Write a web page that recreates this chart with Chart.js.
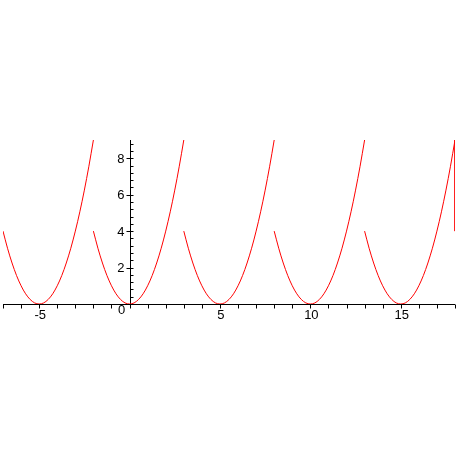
<!DOCTYPE html>
<html>
<head>
<meta charset="utf-8">
<script src="https://cdn.jsdelivr.net/npm/chart.js@4/dist/chart.umd.min.js"></script>
<style>
  html, body { margin: 0; padding: 0; background: #fff; }
  canvas { display: block; }
</style>
</head>
<body>
<canvas id="chart" width="459" height="459"></canvas>
<script>
// one period of the curve: offset from the dip -> height
const shapeX = [-2, -1.75, -1.5, -1.25, -1, -0.75, -0.5, -0.25, 0, 0.25, 0.5, 0.75, 1, 1.25, 1.5, 1.75, 2, 2.25, 2.5, 2.75, 3]
const shapeY = [4, 3.06, 2.25, 1.56, 1, 0.56, 0.25, 0.06, 0, 0.06, 0.25, 0.56, 1, 1.56, 2.25, 3.06, 4, 5.06, 6.25, 7.56, 9]
// x of each dip
const dips = [-5, 0, 5, 10, 15]
// the drop drawn at the right edge
const edgeX = [18, 18]
const edgeY = [9, 4]

const xLabels = [-5, 5, 10, 15]
const yLabels = [2, 4, 6, 8]

const red = '#ff0000'

const datasets = dips.map(d => ({
  data: shapeX.map((x, i) => ({ x: d + x, y: shapeY[i] })),
  borderColor: red,
  borderWidth: 1,
  pointRadius: 0,
  cubicInterpolationMode: 'monotone',
  fill: false,
}))
datasets.push({
  data: edgeX.map((x, i) => ({ x: x, y: edgeY[i] })),
  borderColor: red,
  borderWidth: 1,
  pointRadius: 0,
  fill: false,
})

// Maple-style axes through the origin
const axesPlugin = {
  id: 'mapleAxes',
  beforeDatasetsDraw(chart) {
    const { ctx } = chart
    const xs = chart.scales.x
    const ys = chart.scales.y
    const x0 = Math.round(xs.getPixelForValue(0)) + 0.5
    const y0 = Math.round(ys.getPixelForValue(0)) + 0.5
    const left = xs.getPixelForValue(xs.min)
    const right = xs.getPixelForValue(xs.max)
    const top = ys.getPixelForValue(ys.max)

    ctx.save()
    ctx.strokeStyle = '#000'
    ctx.lineWidth = 1
    ctx.beginPath()
    ctx.moveTo(left, y0)
    ctx.lineTo(right, y0)
    ctx.moveTo(x0, y0)
    ctx.lineTo(x0, top)
    // x ticks every unit, hanging below the axis
    for (let v = Math.ceil(xs.min); v <= xs.max; v++) {
      const px = Math.round(xs.getPixelForValue(v)) + 0.5
      ctx.moveTo(px, y0)
      ctx.lineTo(px, y0 + 4)
    }
    // y ticks
    for (let v = 0.4; v <= ys.max + 0.001; v += 0.4) {
      const py = Math.round(ys.getPixelForValue(v)) + 0.5
      ctx.moveTo(x0, py)
      ctx.lineTo(x0 + 3, py)
    }
    yLabels.forEach(v => {
      const py = Math.round(ys.getPixelForValue(v)) + 0.5
      ctx.moveTo(x0, py)
      ctx.lineTo(x0 - 4, py)
    })
    ctx.stroke()

    ctx.fillStyle = '#000'
    ctx.font = '13px "Liberation Sans", Arial, sans-serif'
    ctx.textAlign = 'center'
    ctx.textBaseline = 'middle'
    xLabels.forEach(v => {
      ctx.fillText(String(v), xs.getPixelForValue(v) + 1, y0 + 11)
    })
    ctx.fillText('0', x0 - 9, y0 + 6)
    ctx.textAlign = 'right'
    yLabels.forEach(v => {
      ctx.fillText(String(v), x0 - 6, ys.getPixelForValue(v) + 1)
    })
    ctx.restore()
  }
}

new Chart(document.getElementById('chart'), {
  type: 'line',
  data: { datasets: datasets },
  options: {
    responsive: false,
    animation: false,
    layout: { padding: { left: 3, right: 4, top: 140, bottom: 155 } },
    scales: {
      x: { type: 'linear', min: -7, max: 18, display: false },
      y: { type: 'linear', min: 0, max: 9, display: false },
    },
    plugins: {
      legend: { display: false },
      tooltip: { enabled: false },
    },
  },
  plugins: [axesPlugin],
})
</script>
</body>
</html>
